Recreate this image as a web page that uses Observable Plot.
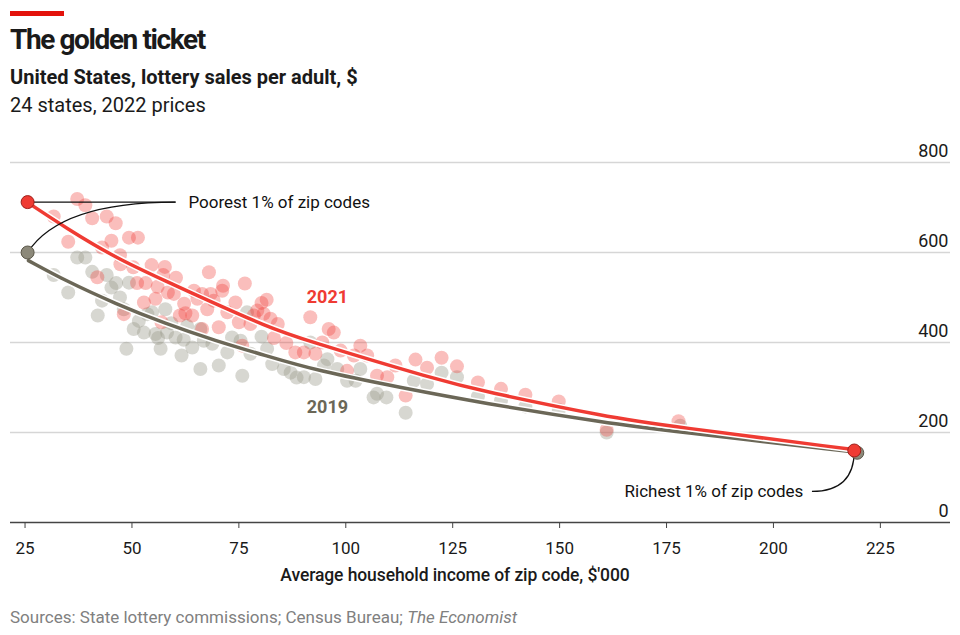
<!DOCTYPE html>
<html>
<head>
<meta charset="utf-8">
<script src="https://cdn.jsdelivr.net/npm/d3@7"></script>
<script src="https://cdn.jsdelivr.net/npm/@observablehq/plot@0.6"></script>
<style>
  body { margin: 0; width: 960px; height: 635px; position: relative; background: #fff; font-family: Roboto, "Noto Sans", sans-serif; color: #1a1a1a; overflow: hidden; }
  .abs { position: absolute; white-space: nowrap; }
  #bar { left: 10px; top: 11px; width: 54px; height: 5px; background: #e3120b; }
  #title { left: 10px; top: 23px; font-size: 28px; font-weight: 700; letter-spacing: -1.4px; }
  #sub1 { left: 10px; top: 65px; font-size: 20px; font-weight: 700; }
  #sub2 { left: 10px; top: 93px; font-size: 20px; font-weight: 400; }
  #chart { left: 0; top: 130px; }
  #xlabel { left: 0; width: 910px; top: 565px; text-align: center; font-size: 17.5px; font-weight: 500; letter-spacing: -0.1px; }
  #source { left: 10px; top: 607px; font-size: 17px; color: #808080; }
</style>
</head>
<body>
<div id="bar" class="abs"></div>
<div id="title" class="abs">The golden ticket</div>
<div id="sub1" class="abs">United States, lottery sales per adult, $</div>
<div id="sub2" class="abs">24 states, 2022 prices</div>
<div id="chart" class="abs"></div>
<div id="xlabel" class="abs">Average household income of zip code, $'000</div>
<div id="source" class="abs">Sources: State lottery commissions; Census Bureau; <i>The Economist</i></div>
<script>
// ---- data (income $'000, sales per adult $) ----
const xTicks = [25, 50, 75, 100, 125, 150, 175, 200, 225];
const yTicks = [0, 200, 400, 600, 800];

const sales2021 = [
  [31.7,680],[35.1,624],[37.2,719],[39.1,705],[40.7,676],[41.9,545],[43.0,611],[44.1,680],[45.2,626],[46.2,665],
  [47.2,594],[47.3,574],[48.1,463],[49.3,633],[50.3,567],[51.2,532],[51.4,633],[52.8,489],[53.2,532],[54.6,572],
  [55.5,497],[56.0,524],[56.9,445],[57.3,550],[57.7,568],[58.4,511],[59.8,508],[60.3,544],[61.2,460],[62.2,486],
  [62.5,465],[64.1,460],[64.5,515],[65.3,497],[66.4,508],[66.4,430],[67.6,474],[68.0,556],[68.4,508],[69.1,493],
  [70.3,434],[71.1,515],[71.3,526],[72.3,467],[74.2,489],[75.0,445],[75.8,393],[76.4,531],[77.7,441],[78.5,460],
  [79.3,471],[80.3,488],[81.5,495],[80.8,464],[82.4,453],[83.2,410],[84.1,441],[86.1,399],[88.2,378],[90.2,378],
  [91.7,456],[92.9,375],[94.5,400],[96.0,430],[97.2,422],[98.8,382],[100.3,337],[101.9,371],[103.4,393],[105.0,371],
  [107.3,326],[109.7,323],[111.6,349],[114.0,282],[116.3,362],[119.0,344],[122.4,366],[126.0,347],[130.9,311],[136.3,297],
  [142.0,284],[149.8,269],[161.0,206],[177.8,225]
];

const sales2019 = [
  [31.7,550],[35.1,511],[37.2,589],[39.1,589],[40.7,557],[42.0,460],[43.0,493],[44.1,550],[45.2,522],[46.3,532],
  [47.2,500],[48.1,474],[48.7,386],[49.3,533],[50.4,430],[51.6,448],[52.8,422],[53.6,463],[54.7,467],[55.5,419],
  [56.1,410],[56.7,386],[57.8,474],[58.2,422],[59.2,443],[60.2,411],[61.6,371],[62.1,406],[62.9,437],[64.1,389],
  [66.0,430],[66.0,341],[66.8,404],[68.8,397],[70.3,349],[72.3,378],[73.4,411],[75.4,404],[75.8,326],[76.9,467],
  [77.7,375],[80.3,413],[81.6,386],[82.8,352],[85.5,341],[87.1,333],[88.5,322],[90.2,323],[91.7,400],[92.9,319],
  [94.9,349],[95.7,363],[98.0,341],[100.3,315],[102.3,315],[103.4,341],[106.5,278],[107.3,286],[109.5,278],[114.0,244],
  [115.9,315],[119.0,308],[122.4,333],[126.0,323],[130.9,280],[136.3,271],[142.0,258],[149.8,250],[161.0,200],[178.2,215]
];

// fitted curves
const curve2021 = [[25.8,710],[34.5,655],[46.2,588],[57.8,537],[69.5,486],[81.2,437],[89.4,408],[122.1,315],[131.5,293],[161.9,233],[175.2,215],[218.7,162]];
const curve2019 = [[25.8,582],[34.5,537],[46.2,486],[57.8,442],[69.5,404],[81.2,371],[93.4,337],[112.8,300],[131.5,266],[161.9,220],[175.2,204],[219.6,156]];

// endpoint markers: poorest and richest 1% of zip codes
const ends2019 = [[25.6,600],[219.6,155]];
const ends2021 = [[25.6,712],[218.9,160]];

// annotations
const seriesLabels = [
  {x: 95.7, y: 500, text: "2021", color: "#ef3b33"},
  {x: 95.7, y: 257, text: "2019", color: "#6b6757"}
];
const noteLeft = [{x: 63.2, y: 712, text: "Poorest 1% of zip codes"}];
const noteRight = [{x: 207.0, y: 69, text: "Richest 1% of zip codes"}];
const straightLeaders = [{x1: 25.6, y1: 712, x2: 60.2, y2: 712}];
const curvedLeaders = [
  {x1: 25.6, y1: 600, x2: 60.2, y2: 712, k: 0.22},
  {x1: 218.9, y1: 160, x2: 209.0, y2: 69, k: 0}
];

// quadratic leader-line curve: control point at (a.x + k*(b.x-a.x), b.y)
function leaderCurve(k) {
  return function(context) {
    let pts = [];
    return {
      areaStart() {}, areaEnd() {},
      lineStart() { pts = []; },
      point(x, y) { pts.push([x, y]); },
      lineEnd() {
        const [a, b] = pts;
        context.moveTo(a[0], a[1]);
        context.quadraticCurveTo(a[0] + k * (b[0] - a[0]), b[1], b[0], b[1]);
      }
    };
  };
}

const RED = "#ef3b33", OLIVE = "#6b6757";

const chart = Plot.plot({
  width: 960,
  height: 470,
  marginTop: 32,
  marginBottom: 78,
  marginLeft: 10,
  marginRight: 10,
  style: {fontFamily: "Roboto, sans-serif", fontSize: "18px", color: "#1a1a1a", background: "transparent", overflow: "visible"},
  x: {domain: [21.6, 241.4]},
  y: {domain: [0, 800]},
  marks: [
    Plot.gridY(yTicks.filter(d => d > 0), {stroke: "#d6d6d6", strokeOpacity: 1, strokeWidth: 1.3}),
    Plot.axisY(yTicks, {anchor: "right", tickSize: 0, tickPadding: 0, textAnchor: "end", dx: -2, dy: -11, label: null, fontSize: 18}),
    Plot.ruleY([0], {stroke: "#444", strokeWidth: 1.5}),
    Plot.axisX(xTicks, {tickSize: 6, tickPadding: 13, label: null, stroke: "#444", fontSize: 17}),
    Plot.dot(sales2019, {x: d => d[0], y: d => d[1], r: 7, fill: "#9c9a8c", fillOpacity: 0.4}),
    Plot.dot(sales2021, {x: d => d[0], y: d => d[1], r: 7, fill: RED, fillOpacity: 0.33}),
    Plot.line(curve2019, {x: d => d[0], y: d => d[1], curve: "basis", stroke: "white", strokeWidth: 6.5}),
    Plot.line(curve2019, {x: d => d[0], y: d => d[1], curve: "basis", stroke: OLIVE, strokeWidth: 3.5}),
    Plot.line(curve2021, {x: d => d[0], y: d => d[1], curve: "basis", stroke: "white", strokeWidth: 6.5}),
    Plot.line(curve2021, {x: d => d[0], y: d => d[1], curve: "basis", stroke: RED, strokeWidth: 3.5}),
    Plot.link(straightLeaders, {x1: "x1", y1: "y1", x2: "x2", y2: "y2", stroke: "#111", strokeWidth: 1.3}),
    Plot.link([curvedLeaders[0]], {x1: "x1", y1: "y1", x2: "x2", y2: "y2", curve: leaderCurve(curvedLeaders[0].k), stroke: "#111", strokeWidth: 1.3}),
    Plot.link([curvedLeaders[1]], {x1: "x1", y1: "y1", x2: "x2", y2: "y2", curve: leaderCurve(curvedLeaders[1].k), stroke: "#111", strokeWidth: 1.3}),
    Plot.dot(ends2019, {x: d => d[0], y: d => d[1], r: 6.5, fill: "#8c897a", stroke: "#5a5648", strokeWidth: 1}),
    Plot.dot(ends2021, {x: d => d[0], y: d => d[1], r: 6.5, fill: RED, stroke: "#9e1f1a", strokeWidth: 1}),
    Plot.text(seriesLabels, {x: "x", y: "y", text: "text", fill: d => d.color, fontSize: 18, fontWeight: 700}),
    Plot.text(noteLeft, {x: "x", y: "y", text: "text", textAnchor: "start", fill: "#111", fontSize: 17}),
    Plot.text(noteRight, {x: "x", y: "y", text: "text", textAnchor: "end", fill: "#111", fontSize: 17})
  ]
});
document.getElementById("chart").appendChild(chart);
</script>
</body>
</html>
